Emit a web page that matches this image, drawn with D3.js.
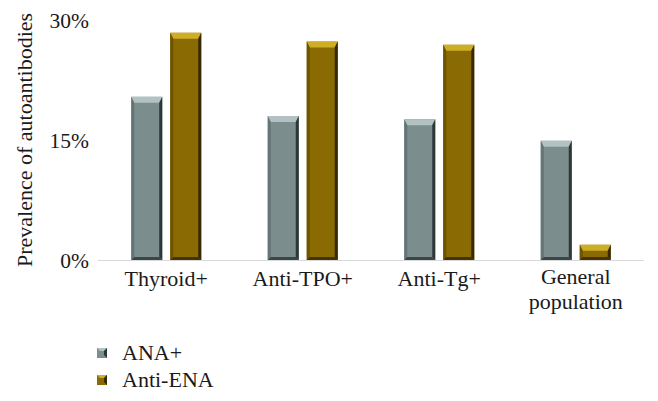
<!DOCTYPE html>
<html><head><meta charset="utf-8">
<script src="https://cdn.jsdelivr.net/npm/d3@7"></script>
<style>body{margin:0;background:#fff;}svg{display:block;} text{font-family:'Liberation Serif','DejaVu Serif',serif;}</style>
</head><body><svg id="c" width="658" height="401"></svg>
<script>
const categories = ["Thyroid+", "Anti-TPO+", "Anti-Tg+", "General population"];
const seriesNames = ["ANA+", "Anti-ENA"];
const anaValues = [20.4, 18.0, 17.6, 14.9];
const enaValues = [28.4, 27.3, 26.9, 1.9];
const yTicks = [0, 15, 30];

const FONT = "'Liberation Serif','DejaVu Serif',serif";
const palette = {
  "ANA+": {body:"#7b8d8d", top:"#b2c2c2", left:"#647575", right:"#2c3838", bottom:"#3a4646"},
  "Anti-ENA": {body:"#8a6a02", top:"#cdae25", left:"#6e5400", right:"#362800", bottom:"#453300"}
};

const svg = d3.select("#c");
const M = {left:98, right:644, top:20, bottom:260};
const x0 = d3.scaleBand().domain(categories).range([M.left, M.right]).padding(0);
const bw0 = x0.bandwidth();
const x1 = d3.scaleBand().domain(seriesNames).range([(bw0-70)/2, (bw0+70)/2]).paddingInner(0.205).paddingOuter(0);
const y = d3.scaleLinear().domain([0,30]).range([M.bottom, M.top]);

svg.append("line").attr("x1",M.left).attr("x2",M.right).attr("y1",y(0)+0.5).attr("y2",y(0)+0.5)
  .attr("stroke","#d9d9d9").attr("stroke-width",1.2);

const yAxis = d3.axisLeft(y).tickValues(yTicks).tickFormat(d=>d+"%").tickSize(0).tickPadding(9);
const ya = svg.append("g").attr("transform",`translate(${M.left},0)`).call(yAxis);
ya.select(".domain").remove();
ya.attr("font-family",null).attr("font-size",null);
ya.selectAll("text").style("font-family",FONT).style("font-size","21.5px").attr("fill","#1a1a1a").attr("dy","0.36em");

svg.append("text").attr("transform",`translate(32,140) rotate(-90)`)
  .attr("text-anchor","middle").style("font-family",FONT).style("font-size","22px").attr("fill","#1a1a1a").text("Prevalence of autoantibodies");

const rows = categories.map((c,i)=>({cat:c, vals:[{s:"ANA+", v:anaValues[i]},{s:"Anti-ENA", v:enaValues[i]}]}));

function drawBar(g, x, w, yt, yb, col){
  const h = yb - yt;
  const tb = Math.min(6, h/2), sb = 3, bb = 3;
  g.append("rect").attr("x",x).attr("y",yt).attr("width",w).attr("height",h).attr("fill",col.body);
  g.append("polygon").attr("points",[[x,yt],[x+w,yt],[x+w-sb,yt+tb],[x+sb,yt+tb]].join(" ")).attr("fill",col.top);
  g.append("polygon").attr("points",[[x,yt],[x+sb,yt+tb],[x+sb,yb-bb],[x,yb]].join(" ")).attr("fill",col.left);
  g.append("polygon").attr("points",[[x+w,yt],[x+w,yb],[x+w-sb,yb-bb],[x+w-sb,yt+tb]].join(" ")).attr("fill",col.right);
  g.append("polygon").attr("points",[[x,yb],[x+w,yb],[x+w-sb,yb-bb],[x+sb,yb-bb]].join(" ")).attr("fill",col.bottom);
}

const groups = svg.selectAll("g.grp").data(rows).join("g").attr("class","grp")
  .attr("transform",d=>`translate(${x0(d.cat)},0)`);
groups.each(function(d){
  const g = d3.select(this);
  d.vals.forEach(b=>{
    drawBar(g, x1(b.s), x1.bandwidth(), y(b.v), y(0), palette[b.s]);
  });
});

const xl = svg.append("g");
categories.forEach(c=>{
  const words = c === "General population" ? ["General","population"] : [c];
  words.forEach((w,i)=>{
    xl.append("text").attr("text-anchor","middle").style("font-family",FONT).style("font-size","22px").attr("fill","#1a1a1a")
      .attr("x", x0(c)+bw0/2).attr("y", (words.length>1 ? 284 : 286) + i*25).text(w);
  });
});

const lg = svg.append("g").attr("transform","translate(97,348)");
seriesNames.forEach((s,i)=>{
  const g = lg.append("g").attr("transform",`translate(0,${i*27})`);
  const col = palette[s];
  g.append("rect").attr("width",10).attr("height",10).attr("fill",col.body);
  g.append("polygon").attr("points","0,0 10,0 7,3 3,3").attr("fill",col.top);
  g.append("polygon").attr("points","10,0 10,10 7,7 7,3").attr("fill",col.right);
  g.append("text").attr("x",25).attr("y",12).style("font-family",FONT).style("font-size","22px").attr("fill","#1a1a1a").text(s);
});
</script></body></html>
